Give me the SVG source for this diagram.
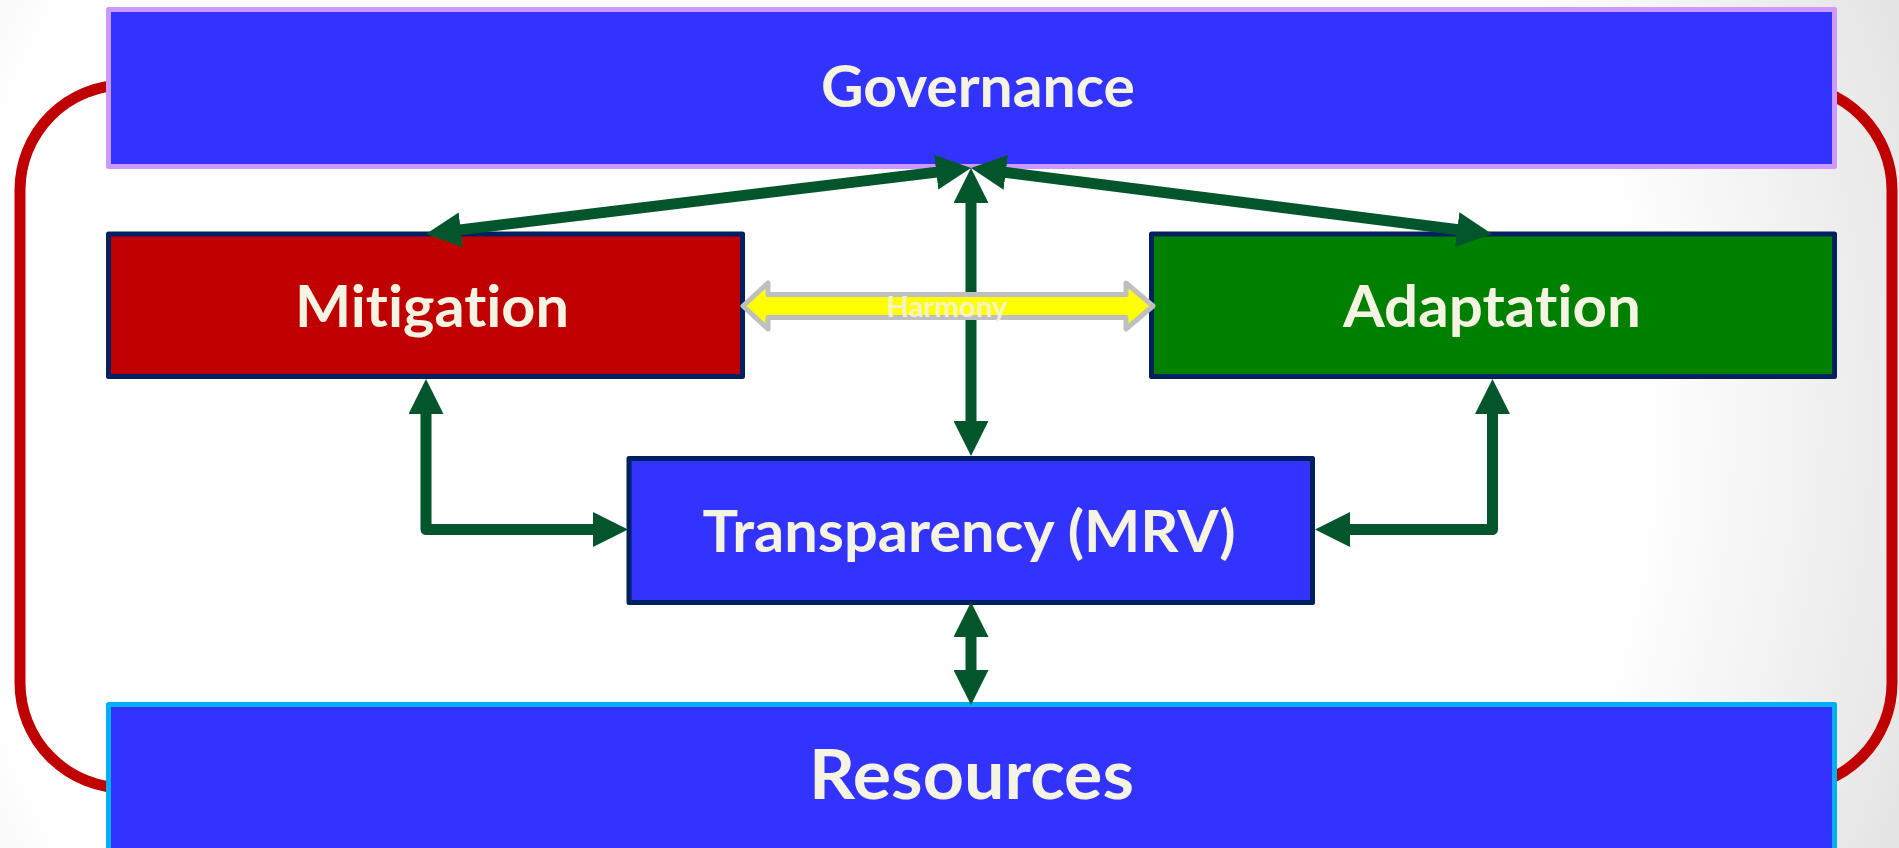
<svg xmlns="http://www.w3.org/2000/svg" width="1899" height="848" viewBox="0 0 1899 848">
  <defs>
    <radialGradient id="bg" gradientUnits="userSpaceOnUse" cx="800" cy="424" r="1200">
      <stop offset="0" stop-color="#ffffff"/>
      <stop offset="0.7" stop-color="#ffffff"/>
      <stop offset="1" stop-color="#e2e2e2"/>
    </radialGradient>
    <marker id="head" markerUnits="userSpaceOnUse" markerWidth="35" markerHeight="35" refX="5" refY="17.5" orient="auto-start-reverse" viewBox="0 0 35 35">
      <path d="M0,0 L35,17.5 L0,35 Z" fill="#03552b"/>
    </marker>
    <style>
      .box { stroke-width: 5; stroke-linejoin: round; }
      .navy { stroke: #002060; }
      .blue { fill: #3333ff; }
      .lbl { font-family: Lato, "Noto Sans", "Open Sans", sans-serif; font-weight: bold; fill: #f5f3e1; text-anchor: middle; font-variant-ligatures: none; font-feature-settings: "liga" 0, "clig" 0; }
      .conn { fill: none; stroke: #03552b; stroke-width: 11; stroke-linejoin: round; marker-start: url(#head); marker-end: url(#head); }
    </style>
  </defs>

  <rect x="0" y="0" width="1899" height="848" fill="url(#bg)"/>

  <!-- outer red loop -->
  <rect x="20" y="85" width="1872" height="703" rx="105" ry="105" fill="none" stroke="#c00000" stroke-width="11"/>

  <g id="governance">
    <rect class="box blue" x="108.5" y="9.5" width="1726" height="157" stroke="#cc99ff"/>
    <text class="lbl" x="978" y="107" font-size="57" textLength="314" lengthAdjust="spacingAndGlyphs">Governance</text>
  </g>

  <g id="mitigation">
    <rect class="box navy" x="108.5" y="234" width="634" height="142.5" fill="#c00000"/>
    <text class="lbl" x="432" y="327" font-size="57" textLength="274" lengthAdjust="spacingAndGlyphs">Mitigation</text>
  </g>

  <g id="adaptation">
    <rect class="box navy" x="1151.5" y="234" width="683" height="142.5" fill="#008000"/>
    <text class="lbl" x="1492" y="327" font-size="57" textLength="298" lengthAdjust="spacingAndGlyphs">Adaptation</text>
  </g>

  <g id="transparency">
    <rect class="box navy blue" x="629" y="458.5" width="683.5" height="144"/>
    <text class="lbl" x="969" y="552" font-size="57" textLength="533" lengthAdjust="spacingAndGlyphs">Transparency (MRV)</text>
  </g>

  <g id="resources">
    <rect class="box blue" x="108.5" y="704.5" width="1726" height="200" stroke="#00b0f0"/>
    <text class="lbl" x="971.5" y="799" font-size="68" textLength="325" lengthAdjust="spacingAndGlyphs">Resources</text>
  </g>

  <g id="connectors">
    <line class="conn" x1="941.2" y1="171.6" x2="455.8" y2="230.4"/>
    <line class="conn" x1="1000.8" y1="171.8" x2="1462.2" y2="230.2"/>
    <line class="conn" x1="971" y1="198" x2="971" y2="426"/>
    <polyline class="conn" points="426,409 426,529.5 598,529.5"/>
    <polyline class="conn" points="1492.5,409 1492.5,529.5 1345,529.5"/>
    <line class="conn" x1="971" y1="632" x2="971" y2="675"/>
    <g id="harmony">
      <path d="M743,306 L768,283 L768,294.5 L1126,294.5 L1126,283 L1153,306 L1126,329 L1126,317.5 L768,317.5 L768,329 Z" fill="#ffff00" stroke="#bfbfbf" stroke-width="5" stroke-linejoin="round"/>
      <text class="lbl" x="947" y="316.5" font-size="29" textLength="121" lengthAdjust="spacingAndGlyphs" fill-opacity="0.9">Harmony</text>
    </g>
  </g>
</svg>
